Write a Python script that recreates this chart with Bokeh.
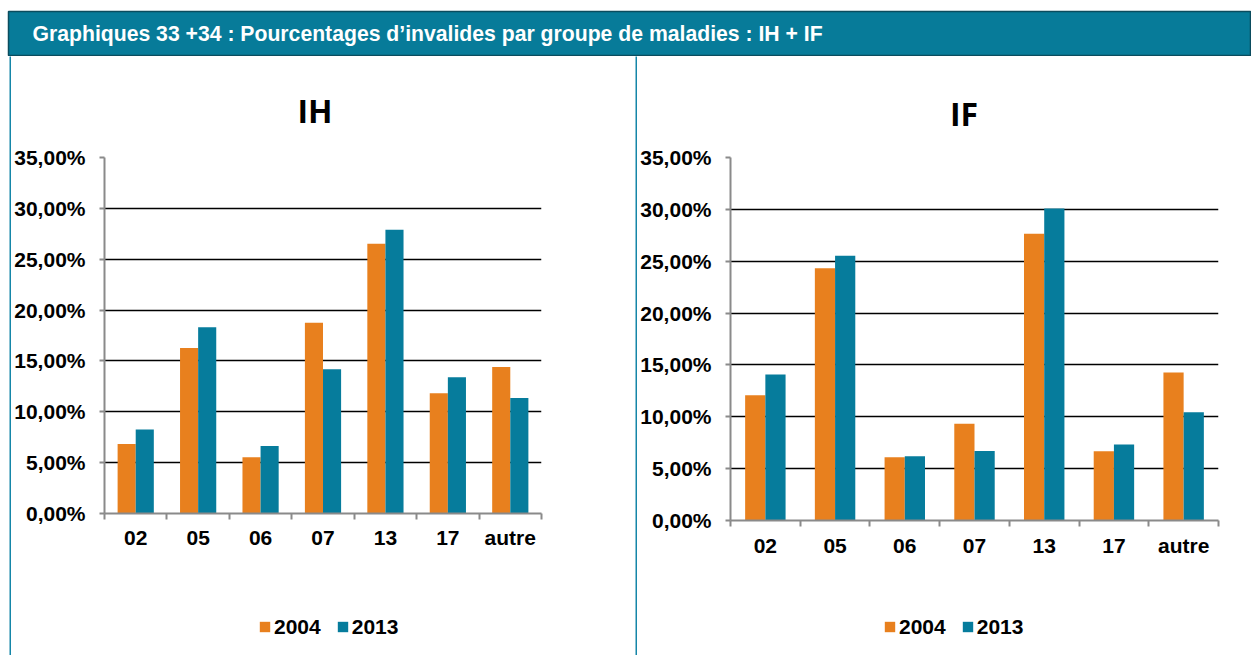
from bokeh.plotting import figure
from bokeh.models import Range1d, FixedTicker, Label, Legend, LegendItem, ColumnDataSource
from bokeh.layouts import row, column
from bokeh.embed import file_html
from bokeh.resources import INLINE

# ---------------- data ----------------
categories = ["02", "05", "06", "07", "13", "17", "autre"]
years = ["2004", "2013"]
ih_2004 = [6.83, 16.28, 5.52, 18.75, 26.53, 11.82, 14.41]
ih_2013 = [8.27, 18.32, 6.63, 14.18, 27.90, 13.39, 11.36]
if_2004 = [12.07, 24.31, 6.10, 9.34, 27.65, 6.68, 14.26]
if_2013 = [14.07, 25.53, 6.20, 6.71, 30.09, 7.32, 10.44]
y_ticks = [0, 5, 10, 15, 20, 25, 30, 35]
y_tick_labels = ["0,00%", "5,00%", "10,00%", "15,00%", "20,00%", "25,00%", "30,00%", "35,00%"]
header_text = "Graphiques 33 +34 : Pourcentages d\u2019invalides par groupe de maladies : IH + IF"
titles = ["IH", "IF"]

# ---------------- style ----------------
ORANGE = "#E8801E"
TEAL = "#067C9C"
LINE = "#1586A8"
HEADER = "#077B99"
AXIS = "#8A8A8A"
FONT = "Liberation Sans"
colors = [ORANGE, TEAL]


def blank(width, height):
    f = figure(width=width, height=height, x_range=Range1d(0, 1), y_range=Range1d(0, 1),
               x_axis_location=None, y_axis_location=None, toolbar_location=None,
               min_border=0, output_backend="svg")
    f.outline_line_color = None
    f.background_fill_color = "white"
    f.border_fill_color = "white"
    f.grid.visible = False
    return f


def title_fig(title, width, height, tx, ty):
    f = blank(width, height)
    f.add_layout(Label(x=tx, y=ty, x_units="screen", y_units="screen", text=title,
                       text_font="Open Sans", text_font_style="bold", text_font_size="32px",
                       text_align="center", text_baseline="middle", text_color="black"))
    return f


def legend_fig(width, height, lx, ly):
    f = blank(width, height)
    # zero-height swatch renderers: they only carry the legend colours
    sw = ColumnDataSource(dict(x=[0], top=[0], bottom=[0]))
    rs = [f.vbar(x="x", top="top", bottom="bottom", width=0.01, source=sw,
                 fill_color=c, line_color=None) for c in colors]
    legend = Legend(items=[LegendItem(label=y, renderers=[r]) for y, r in zip(years, rs)],
                    orientation="horizontal", location=(lx, ly),
                    glyph_width=13, glyph_height=13, label_standoff=3, spacing=15,
                    padding=0, margin=0, border_line_color=None, background_fill_alpha=0,
                    label_text_font=FONT, label_text_font_style="bold",
                    label_text_font_size="21px", label_text_color="black",
                    label_height=13)
    f.add_layout(legend)
    return f


def chart(v04, v13, width, height, left, right, top, bottom, x_standoff):
    n = len(categories)
    p = figure(width=width, height=height, x_range=Range1d(0, n), y_range=Range1d(0, 35),
               output_backend="svg", toolbar_location=None,
               min_border_left=left, min_border_right=right,
               min_border_top=top, min_border_bottom=bottom)
    p.outline_line_color = None
    p.background_fill_color = "white"
    p.border_fill_color = "white"
    idx = list(range(n))
    bw = 0.29
    src = ColumnDataSource(dict(
        x04=[i + 0.5 - bw / 2 for i in idx],
        x13=[i + 0.5 + bw / 2 for i in idx],
        v04=v04, v13=v13))
    p.vbar(x="x04", top="v04", width=bw, source=src, fill_color=colors[0], line_color=None)
    p.vbar(x="x13", top="v13", width=bw, source=src, fill_color=colors[1], line_color=None)

    xa = p.xaxis[0]
    xa.ticker = FixedTicker(ticks=[i + 0.5 for i in idx], minor_ticks=list(range(n + 1)))
    xa.major_label_overrides = {i + 0.5: c for i, c in zip(idx, categories)}
    xa.major_tick_out = 0
    xa.major_tick_in = 0
    xa.minor_tick_out = 6
    xa.minor_tick_in = 0
    xa.minor_tick_line_color = AXIS
    xa.minor_tick_line_width = 2
    xa.axis_line_color = AXIS
    xa.axis_line_width = 2
    xa.major_label_standoff = x_standoff
    xa.major_label_text_font = FONT
    xa.major_label_text_font_style = "bold"
    xa.major_label_text_font_size = "21px"
    xa.major_label_text_color = "black"

    ya = p.yaxis[0]
    ya.ticker = FixedTicker(ticks=y_ticks)
    ya.major_label_overrides = {t: l for t, l in zip(y_ticks, y_tick_labels)}
    ya.major_tick_out = 5
    ya.major_tick_in = 0
    ya.major_tick_line_color = AXIS
    ya.major_tick_line_width = 2
    ya.minor_tick_line_color = None
    ya.axis_line_color = AXIS
    ya.axis_line_width = 2
    ya.major_label_standoff = 14
    ya.major_label_text_font = FONT
    ya.major_label_text_font_style = "bold"
    ya.major_label_text_font_size = "21px"
    ya.major_label_text_color = "black"

    p.xgrid.visible = False
    p.ygrid.grid_line_color = "black"
    p.ygrid.grid_line_width = 1.5
    return p


def vline(w, h, pad_left=0):
    f = figure(width=w, height=h, x_range=Range1d(0, 1), y_range=Range1d(0, 1),
               x_axis_location=None, y_axis_location=None, toolbar_location=None,
               min_border=0, min_border_left=pad_left, output_backend="svg")
    f.background_fill_color = LINE
    f.border_fill_color = "white"
    f.outline_line_color = None
    f.grid.visible = False
    return f


# header
h = figure(width=1251, height=56, x_range=Range1d(0, 1), y_range=Range1d(0, 1),
           x_axis_location=None, y_axis_location=None, toolbar_location=None,
           min_border_left=8, min_border_right=0, min_border_top=11, min_border_bottom=1,
           output_backend="svg")
h.background_fill_color = HEADER
h.border_fill_color = "white"
h.outline_line_color = "#0B4C5E"
h.outline_line_width = 1.5
h.grid.visible = False
h.add_layout(Label(x=24, y=22, x_units="screen", y_units="screen", text=header_text,
                   text_color="white", text_font=FONT, text_font_style="bold",
                   text_font_size="21.2px", text_baseline="middle"))

H = 599
TH, CH, LH = 84, 460, 55
LW, RW = 624, 614

# (frames of the stacked figures are aligned on the chart frame)
left_col = column(title_fig(titles[0], LW, TH, 210.5, 30.5),
                  chart(ih_2004, ih_2013, LW, CH, 93, 94, 17, 87, 6),
                  legend_fig(LW, LH, 154, 16.5))
right_col = column(title_fig(titles[1], RW, TH, 233.5, 27),
                   chart(if_2004, if_2013, RW, CH, 93, 33, 17, 80, 7),
                   legend_fig(RW, LH, 153, 16.5))

layout = column(h, row(vline(11, H, 9), left_col, vline(2, H), right_col))

open("out.html", "w").write(file_html(layout, INLINE))
